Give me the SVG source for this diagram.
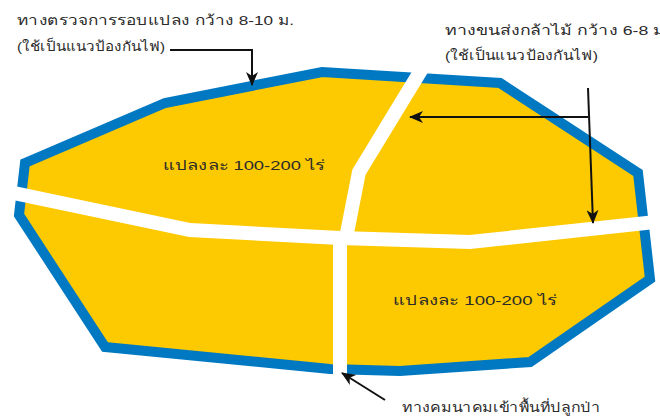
<svg xmlns="http://www.w3.org/2000/svg" width="660" height="417" viewBox="0 0 660 417">
<defs>
<style>
text{font-family:"Liberation Sans","Noto Sans",sans-serif;font-size:13.5px;fill:#2a2a2a}
.road{fill:none;stroke:#fff;stroke-width:14;stroke-linejoin:miter}
.arr{fill:none;stroke:#111;stroke-width:2}
</style>
<marker id="ah" viewBox="0 0 14 12" refX="13" refY="6" markerWidth="14" markerHeight="12" orient="auto" markerUnits="userSpaceOnUse">
<path d="M0,0 L14,6 L0,12 L4,6 Z" fill="#111"/>
</marker>
</defs>
<rect width="660" height="417" fill="#fff"/>
<g id="plantation">
<polygon points="25,163 165,103 322,72 500,83 638,173 650,279 530,362 400,371 330,369 105,347 19,215" fill="#FDC900" stroke="#0079C2" stroke-width="10" stroke-linejoin="miter"/>
</g>
<g id="roads">
<polyline class="road" points="0,190 190,230 340,238 470,242 665,221"/>
<polyline class="road" points="426,62 359,172 347,233 340,242 340,385"/>
</g>
<g id="plot1"><text x="163" y="170" textLength="162" lengthAdjust="spacingAndGlyphs">แปลงละ 100-200 ไร่</text></g>
<g id="plot2"><text x="393" y="305" textLength="164" lengthAdjust="spacingAndGlyphs">แปลงละ 100-200 ไร่</text></g>
<g id="label-patrol">
<text x="17" y="25" textLength="277" lengthAdjust="spacingAndGlyphs">ทางตรวจการรอบแปลง กว้าง 8-10 ม.</text>
<text x="17" y="51" textLength="148" lengthAdjust="spacingAndGlyphs">(ใช้เป็นแนวป้องกันไฟ)</text>
</g>
<g id="label-transport">
<text x="445" y="35" textLength="225" lengthAdjust="spacingAndGlyphs">ทางขนส่งกล้าไม้ กว้าง 6-8 ม.</text>
<text x="445" y="60" textLength="153" lengthAdjust="spacingAndGlyphs">(ใช้เป็นแนวป้องกันไฟ)</text>
</g>
<g id="label-access">
<text x="402" y="412" textLength="198" lengthAdjust="spacingAndGlyphs">ทางคมนาคมเข้าพื้นที่ปลูกป่า</text>
</g>
<g id="connectors">
<polyline class="arr" points="170,50 252,50 252,85" marker-end="url(#ah)"/>
<line class="arr" x1="588" y1="117" x2="410" y2="117" marker-end="url(#ah)"/>
<line class="arr" x1="588" y1="88" x2="593" y2="223" marker-end="url(#ah)"/>
<line class="arr" x1="385" y1="400" x2="342" y2="373" marker-end="url(#ah)"/>
</g>
</svg>
